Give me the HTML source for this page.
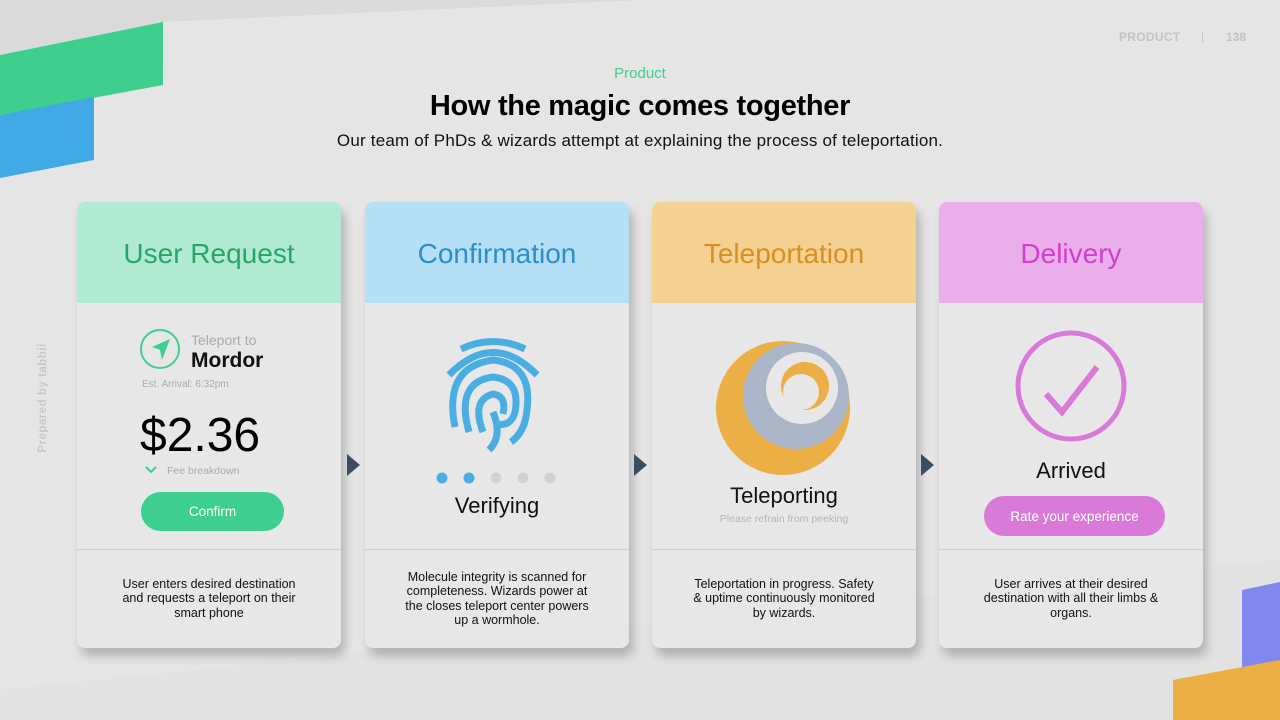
<!DOCTYPE html>
<html><head><meta charset="utf-8"><style>
*{margin:0;padding:0;box-sizing:border-box}
body{width:1280px;height:720px;overflow:hidden;background:#e6e5e6;font-family:"Liberation Sans",sans-serif;position:relative}
.abs{position:absolute}
.card{position:absolute;top:202px;width:264px;height:446px;background:#e8e7e8;border-radius:8px;box-shadow:4px 8px 10px rgba(0,0,0,.22);overflow:hidden}
.hd{height:101px;display:flex;align-items:center;justify-content:center;font-size:28px;padding-top:2px}
.div{position:absolute;left:0;right:0;top:347px;border-top:1px solid #d0cfd0}
.ft{position:absolute;left:0;right:0;top:347px;bottom:0;display:flex;align-items:center;justify-content:center;text-align:center;font-size:12.5px;line-height:14.5px;color:#111;padding:0 38px}
.ctr{position:absolute;left:0;right:0;text-align:center}
.arrow{position:absolute;top:454px;width:0;height:0;border-top:11px solid transparent;border-bottom:11px solid transparent;border-left:13px solid #3d4b63}
.btn{position:absolute;border-radius:20px;color:#fff;font-size:13.5px;display:flex;align-items:center;justify-content:center}
</style></head><body>
<svg class="abs" style="left:0;top:0" width="1280" height="720">
<polygon points="0,0 640,0 163,22 0,55" fill="#dadada"/>
<polygon points="0,55 163,22 163,85 0,115" fill="#3ecf8e"/>
<polygon points="0,115 94,97 94,160 0,178" fill="#40a9e5"/>
<polygon points="0,690 1280,560 1280,720 0,720" fill="#e0dfe0" opacity=".6"/>
<polygon points="1242,590 1280,582 1280,665 1242,670" fill="#8088ee"/>
<polygon points="1173,680 1280,660 1280,720 1173,720" fill="#ebaf45"/>
</svg>
<div class="abs" style="left:1119px;top:30px;font-size:12px;font-weight:bold;color:#c4c4c4;letter-spacing:.3px">PRODUCT</div>
<div class="abs" style="left:1201px;top:29px;font-size:12px;color:#c4c4c4">|</div>
<div class="abs" style="left:1226px;top:30px;font-size:12px;font-weight:bold;color:#c4c4c4">138</div>
<div class="abs" style="left:-17px;top:392px;transform:rotate(-90deg);font-size:11.5px;font-weight:bold;color:#c8c8c8;width:120px;text-align:center;letter-spacing:.5px">Prepared by tabbii</div>
<div class="abs" style="left:0;width:1280px;top:65px;text-align:center;color:#3ecf8e;font-size:15px">Product</div>
<div class="abs" style="left:0;width:1280px;top:90px;text-align:center;color:#000;font-size:29px;font-weight:bold;letter-spacing:-.3px">How the magic comes together</div>
<div class="abs" style="left:0;width:1280px;top:131px;text-align:center;color:#111;font-size:17px;letter-spacing:.2px">Our team of PhDs &amp; wizards attempt at explaining the process of teleportation.</div>

<div class="card" style="left:77px">
 <div class="hd" style="background:#b1ead3;color:#2aa56a">User Request</div>
 <svg class="abs" style="left:62px;top:126px" width="42" height="42"><circle cx="21" cy="21" r="19" fill="none" stroke="#3ecf8e" stroke-width="2"/><polygon points="31,11 13,19 21,22 23,32" fill="#3ecf8e"/></svg>
 <div class="abs" style="left:114px;top:130px;font-size:14px;color:#aaa">Teleport to</div>
 <div class="abs" style="left:114px;top:147px;font-size:21px;font-weight:bold;color:#111">Mordor</div>
 <div class="abs" style="left:65px;top:177px;font-size:10px;color:#aaa">Est. Arrival: 6:32pm</div>
 <div class="abs" style="left:63px;top:206px;font-size:48px;color:#000">$2.36</div>
 <svg class="abs" style="left:67px;top:263px" width="14" height="10"><polyline points="2,2 7,7 12,2" fill="none" stroke="#3ecf8e" stroke-width="2"/></svg>
 <div class="abs" style="left:90px;top:263px;font-size:10.5px;color:#aaa">Fee breakdown</div>
 <div class="btn" style="left:64px;top:290px;width:143px;height:39px;background:#3ecf8e">Confirm</div>
 <div class="div"></div>
 <div class="ft">User enters desired destination and requests a teleport on their smart phone</div>
</div>
<div class="arrow" style="left:347px"></div>

<div class="card" style="left:365px">
 <div class="hd" style="background:#b5dff4;color:#2a8fcf">Confirmation</div>
 <svg class="abs" style="left:76px;top:130px" width="110" height="120" fill="none" stroke="#4aaee3" stroke-width="7">
  <path d="M20,17 Q52,2 84,17"/>
  <path d="M8,43 Q52,-2 96,43"/>
  <path d="M14,95 Q2,35 52,28 Q92,32 86,78 Q84,100 70,110"/>
  <path d="M28,100 Q14,50 52,45 Q80,48 74,80 Q70,95 55,92"/>
  <path d="M42,100 Q30,68 52,62 Q66,64 62,82"/>
  <path d="M52,80 Q62,104 48,118"/>
 </svg>
 <svg class="abs" style="left:70px;top:268px" width="125" height="16">
  <circle cx="7" cy="8" r="5.5" fill="#4aaee3"/><circle cx="34" cy="8" r="5.5" fill="#4aaee3"/>
  <circle cx="61" cy="8" r="5.5" fill="#d3d2d3"/><circle cx="88" cy="8" r="5.5" fill="#d3d2d3"/><circle cx="115" cy="8" r="5.5" fill="#d3d2d3"/>
 </svg>
 <div class="ctr" style="top:291px;font-size:22px;color:#111">Verifying</div>
 <div class="div"></div>
 <div class="ft">Molecule integrity is scanned for completeness. Wizards power at the closes teleport center powers up a wormhole.</div>
</div>
<div class="arrow" style="left:634px"></div>

<div class="card" style="left:652px">
 <div class="hd" style="background:#f4d193;color:#d7901d">Teleportation</div>
 <svg class="abs" style="left:0;top:0" width="264" height="446">
  <circle cx="131" cy="206" r="67" fill="#ebaf45"/>
  <circle cx="144" cy="194" r="53" fill="#abb7c9"/>
  <circle cx="150" cy="186" r="36" fill="#e8e7e8"/>
  <circle cx="153" cy="184" r="24" fill="#ebaf45"/>
  <circle cx="149" cy="190" r="18" fill="#e8e7e8"/>
 </svg>
 <div class="ctr" style="top:281px;font-size:22px;color:#111">Teleporting</div>
 <div class="ctr" style="top:311px;font-size:10.5px;color:#b5b5b5">Please refrain from peeking</div>
 <div class="div"></div>
 <div class="ft">Teleportation in progress. Safety &amp; uptime continuously monitored by wizards.</div>
</div>
<div class="arrow" style="left:921px"></div>

<div class="card" style="left:939px">
 <div class="hd" style="background:#eaaeea;color:#d13fd1">Delivery</div>
 <svg class="abs" style="left:0;top:0" width="264" height="300">
  <circle cx="132" cy="184" r="53" fill="none" stroke="#d97ad9" stroke-width="5"/>
  <polyline points="107,192 123,210 158,165" fill="none" stroke="#d97ad9" stroke-width="6"/>
 </svg>
 <div class="ctr" style="top:256px;font-size:22px;color:#111">Arrived</div>
 <div class="btn" style="left:45px;top:294px;width:181px;height:40px;background:#d97ad9">Rate your experience</div>
 <div class="div"></div>
 <div class="ft">User arrives at their desired destination with all their limbs &amp; organs.</div>
</div>
</body></html>
